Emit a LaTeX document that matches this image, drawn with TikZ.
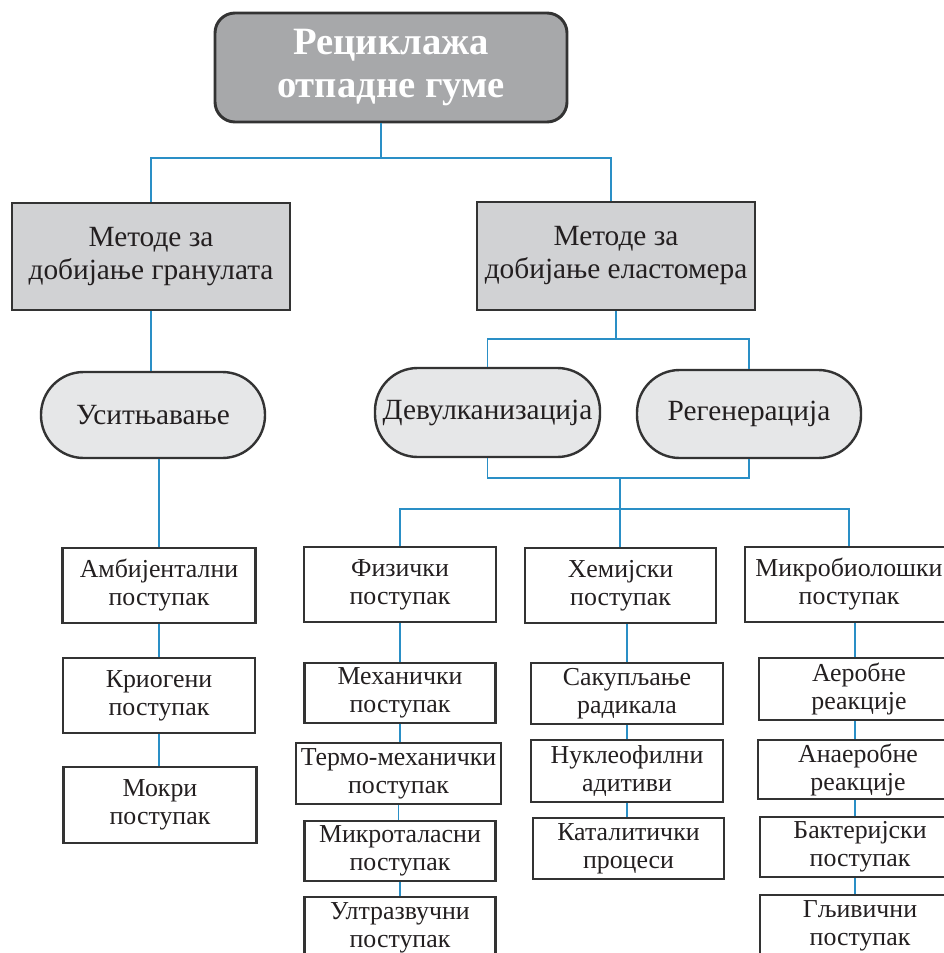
\documentclass[tikz,border=0pt]{standalone}
\usepackage{fontspec}
\setmainfont{Liberation Serif}
\definecolor{conncol}{HTML}{2A8FC6}
\definecolor{titlefill}{HTML}{A7A8AA}
\definecolor{midfill}{HTML}{D1D2D4}
\definecolor{pillfill}{HTML}{E6E7E8}
\definecolor{edgecol}{HTML}{333333}
\definecolor{txtcol}{HTML}{231F20}
\begin{document}
\begin{tikzpicture}[x=0.75pt,y=-0.75pt,
  base/.style={draw=edgecol, line width=1.8pt, align=center, inner sep=0pt, text=txtcol},
  wh/.style 2 args={minimum width=#1*0.75pt, minimum height=#2*0.75pt},
  titlebox/.style={base, fill=titlefill, rounded corners=15pt, text=white, line width=2.2pt,
    font=\fontsize{29}{32.5}\selectfont\bfseries},
  midbox/.style={base, fill=midfill, font=\fontsize{22}{24.75}\selectfont},
  pill/.style={base, fill=pillfill, rounded corners=32pt, font=\fontsize{22}{24.75}\selectfont},
  leaf/.style={base, fill=white, font=\fontsize{19.4}{21}\selectfont},
  conn/.style={draw=conncol, line width=1.4pt}]
\useasboundingbox[fill=white] (0,0) rectangle (944,953);

% nodes
\node[titlebox, wh={352}{109}] (title) at (391,67.5) {Рециклажа\\отпадне гуме};
\node[midbox, wh={278}{107}] (L1) at (151,256.5) {Методе за\\добијање гранулата};
\node[midbox, wh={278}{108}] (R1) at (616,256) {Методе за\\добијање еластомера};
\node[pill, wh={224}{86}] (usit) at (153,415) {Уситњавање};
\node[pill, wh={225}{89}] (devul) at (487.5,412.5) {Девулканизација};
\node[pill, wh={224}{88}] (regen) at (749,414) {Регенерација};

\node[leaf, wh={193}{75}] (ambij) at (159,585.5) {Амбијентални\\поступак};
\node[leaf, wh={192}{75}] (krio) at (159,695.5) {Криогени\\поступак};
\node[leaf, wh={193}{76}] (mokri) at (160,805) {Мокри\\поступак};

\node[leaf, wh={192}{75}] (fiz) at (400,584.5) {Физички\\поступак};
\node[leaf, wh={191}{60}] (meh) at (400,693) {Механички\\поступак};
\node[leaf, wh={205}{61}] (termo) at (398.5,773.5) {Термо-механички\\поступак};
\node[leaf, wh={191}{60}] (mikrot) at (400,851) {Микроталасни\\поступак};
\node[leaf, wh={191}{61}] (ultra) at (400,927.5) {Ултразвучни\\поступак};

\node[leaf, wh={191}{75}] (hem) at (620.5,585.5) {Хемијски\\поступак};
\node[leaf, wh={192}{61}] (sakup) at (627,693.5) {Сакупљање\\радикала};
\node[leaf, wh={192}{62}] (nukl) at (627,771) {Нуклеофилни\\адитиви};
\node[leaf, wh={191}{61}] (katal) at (628.5,848.5) {Каталитички\\процеси};

\node[leaf, wh={208}{75}] (mikrob) at (849,584.5) {Микробиолошки\\поступак};
\node[leaf, wh={200}{62}] (aerob) at (859,689) {Аеробне\\реакције};
\node[leaf, wh={200}{59}] (anaer) at (858,769.5) {Анаеробне\\реакције};
\node[leaf, wh={200}{60}] (bakt) at (860,847) {Бактеријски\\поступак};
\node[leaf, wh={200}{62}] (gljiv) at (860,926) {Гљивични\\поступак};

% junction coordinates
\coordinate (jT) at (381,158);
\coordinate (jR) at (617,339);
\coordinate (jB) at (620,478);
\coordinate (jC) at (620,509);
\coordinate (mx) at (855,0);

% connectors
\draw[conn] (title.south -| jT) -- (jT);
\draw[conn] (L1.north) |- (jT) -| ([xshift=-3.75pt]R1.north);
\draw[conn] (L1.south) -- (L1.south |- usit.north);
\draw[conn] (ambij.north |- usit.south) -- (ambij.north);
\draw[conn] (ambij.south) -- (ambij.south |- krio.north);
\draw[conn] (krio.south) -- (krio.south |- mokri.north);

\draw[conn] (R1.south) -- (R1.south |- jR);
\draw[conn] (devul.north) |- (jR) -| (regen.north);
\draw[conn] (devul.south) |- (jB) -| (regen.south);
\draw[conn] (jB) -- (jB |- hem.north);
\draw[conn] (fiz.north) |- (jC) -| (mikrob.north);

\draw[conn] (fiz.south) -- (fiz.south |- meh.north);
\draw[conn] (meh.south) -- (meh.south |- termo.north);
\draw[conn] (termo.south) -- (termo.south |- mikrot.north);
\draw[conn] (mikrot.south) -- (mikrot.south |- ultra.north);

\draw[conn] (sakup.north |- hem.south) -- (sakup.north);
\draw[conn] (sakup.south) -- (nukl.north);
\draw[conn] (nukl.south) -- (nukl.south |- katal.north);

\draw[conn] (mikrob.south -| mx) -- (aerob.north -| mx);
\draw[conn] (aerob.south -| mx) -- (anaer.north -| mx);
\draw[conn] (anaer.south -| mx) -- (bakt.north -| mx);
\draw[conn] (bakt.south -| mx) -- (gljiv.north -| mx);
\end{tikzpicture}
\end{document}
